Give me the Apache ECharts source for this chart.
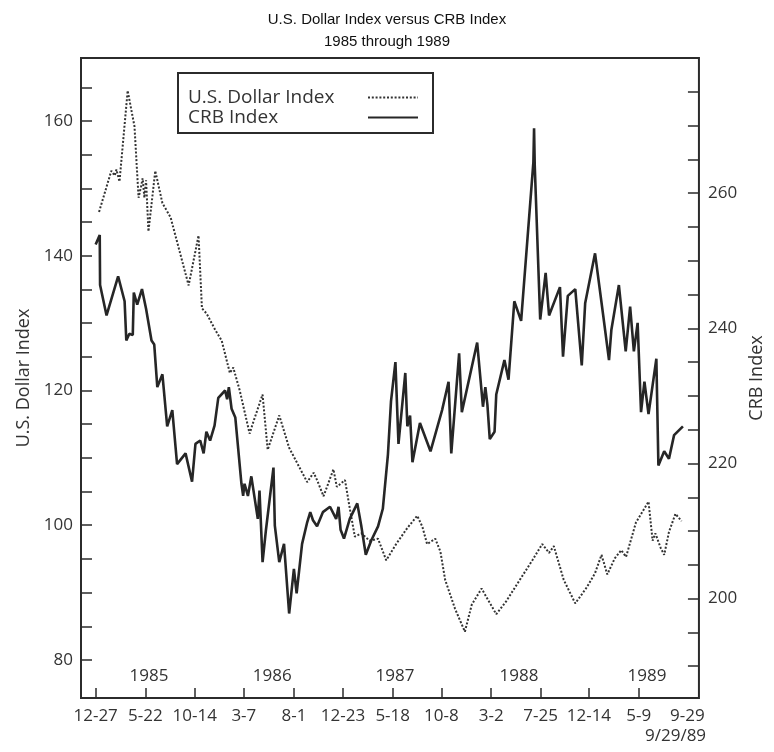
<!DOCTYPE html>
<html><head><meta charset="utf-8">
<script src="https://cdn.jsdelivr.net/npm/echarts@6/dist/echarts.min.js"></script>
<style>html,body{margin:0;padding:0;background:#fff}#c{width:774px;height:752px}</style>
</head><body><div id="c"></div>
<script>
// Days counted from 12-27-1984
const usdDay = [10,46,56,61,70,94,114,126,133,138,
  143,148,155,175,196,220,273,302,312,326,
  351,370,394,404,423,452,462,490,505,539,
  568,621,640,650,669,698,708,732,746,761,
  780,804,829,853,882,915,944,959,973,997,
  1012,1026,1055,1084,1104,1133,1176,1205,1249,1282,
  1311,1331,1345,1374,1408,1442,1466,1485,1502,1524,
  1543,1557,1586,1623,1635,1643,1659,1669,1683,1702,
  1720];
const usdValue = [146.5,152.6,151.9,152.8,151.0,164.5,159.2,148.6,150.2,151.5,
  148.6,151.2,143.6,152.6,147.8,145.7,135.6,143.0,132.2,131.4,
  129.0,127.4,122.6,123.4,120.0,113.6,115.2,119.4,111.2,116.3,
  111.5,106.4,107.8,106.7,104.3,108.3,105.7,106.7,102.5,98.3,
  98.8,97.7,98.0,94.8,97.2,99.6,101.4,99.8,97.2,98.0,
  96.1,91.9,87.6,84.2,88.2,90.6,86.8,88.7,92.2,94.8,
  97.2,95.9,96.9,91.9,88.4,90.8,92.9,95.6,92.7,95.1,
  96.3,95.3,100.4,103.5,97.7,98.8,96.6,95.6,99.0,101.7,
  100.6];
const crbDay = [0,12,13,32,66,85,90,99,109,112,
  122,136,148,164,172,181,196,210,225,239,
  264,283,293,307,317,325,336,349,360,380,
  386,391,399,410,428,433,437,447,457,476,
  481,490,500,522,526,539,553,568,582,590,
  606,621,630,638,650,667,688,706,713,719,
  729,746,768,780,793,809,829,843,858,867,
  880,889,909,915,923,930,952,983,1017,1036,
  1044,1067,1075,1120,1137,1144,1150,1157,1171,1176,
  1200,1212,1229,1249,1285,1287,1289,1305,1321,1331,
  1363,1372,1386,1408,1427,1437,1466,1490,1507,1514,
  1536,1556,1569,1580,1591,1601,1611,1623,1646,1650,
  1652,1669,1683,1698,1724];
const crbValue = [252.4,253.8,246.4,241.9,247.7,244.0,238.2,239.2,239.0,245.3,
  243.5,245.8,242.9,238.2,237.6,231.3,233.2,225.5,227.9,219.9,
  221.5,217.3,222.9,223.4,221.5,224.7,223.4,225.6,229.7,230.8,
  229.5,231.3,228.1,226.8,217.0,215.2,217.0,215.2,218.1,211.8,
  216.0,205.4,210.2,219.4,210.8,205.4,208.1,197.8,204.4,200.8,
  208.1,211.3,212.8,211.6,210.7,212.8,213.6,211.8,213.6,210.2,
  208.9,211.8,214.1,210.7,206.5,208.6,210.7,213.3,221.3,229.2,
  235.0,222.9,233.4,225.5,227.1,220.2,226.0,221.8,227.9,232.1,
  221.5,236.3,227.6,237.9,228.4,231.3,228.7,223.6,224.7,230.2,
  235.3,232.4,244.0,241.1,264.6,269.6,264.1,241.3,248.2,241.9,
  246.1,235.8,244.8,245.8,234.5,243.7,251.1,241.9,235.3,239.8,
  246.4,236.6,243.2,236.6,240.8,227.6,232.1,227.3,235.5,225.0,
  219.7,221.8,220.7,224.2,225.5];

const xTickDays = [0,146,291,435,582,726,872,1015,1161,1306,1448,1594];
const xLabelDays = [0,146,291,435,582,726,872,1015,1161,1306,1448,1594,1737];
const xLabels = ['12-27','5-22','10-14','3-7','8-1','12-23','5-18','10-8','3-2','7-25','12-14','5-9','9-29'];
const yearDays = [154,511,867,1226,1597];
const years = ['1985','1986','1987','1988','1989'];
const usdTicks = [80,85,90,95,100,105,110,115,120,125,130,135,140,145,150,155,160,165];
const usdLabels = [80,100,120,140,160];
const crbTicks = [190,195,200,205,210,215,220,225,230,235,240,245,250,255,260,265,270,275];
const crbLabels = [200,220,240,260];

const FONT = 'Open Sans';
const TXT = '#333';
const INK = '#2b2b2b';
const labelOf = (days, labels) => v => {
  const i = days.findIndex(d => Math.abs(d - v) < 0.5);
  return i >= 0 ? labels[i] : '';
};
const lab = {fontFamily: FONT, fontSize: 17, color: TXT};
const nameStyle = {fontFamily: FONT, fontSize: 18, color: TXT};

const chart = echarts.init(document.getElementById('c'));
chart.setOption({
  animation: false,
  backgroundColor: '#fff',
  title: {
    text: 'U.S. Dollar Index versus CRB Index\n1985 through 1989',
    left: 'center', top: 4,
    textStyle: {fontFamily: 'Liberation Sans', fontSize: 15, fontWeight: 'normal', color: '#111', lineHeight: 22}
  },
  legend: {
    left: 178, top: 73, orient: 'vertical', align: 'right',
    padding: [15, 14, 6, 10], itemGap: 1, itemWidth: 50, itemHeight: 14,
    borderColor: INK, borderWidth: 2, backgroundColor: '#fff',
    itemStyle: {color: 'rgba(0,0,0,0)', borderWidth: 0, opacity: 0},
    formatter: name => '{t|' + name + '}',
    textStyle: {rich: {t: {fontFamily: FONT, fontSize: 19, color: TXT, width: 175, align: 'left', lineHeight: 21}}},
    data: ['U.S. Dollar Index', 'CRB Index']
  },
  grid: [
    {left: 81, right: 67, top: 58, bottom: 54, show: true, borderColor: INK, borderWidth: 2},
    {left: 81, right: 67, top: 58, bottom: 54}
  ],
  xAxis: [
    {type: 'value', gridIndex: 0, min: -43, max: 1771,
     axisLine: {show: false, onZero: false}, splitLine: {show: false},
     axisTick: {inside: true, length: 10, customValues: xTickDays, lineStyle: {color: INK, width: 1.5}},
     axisLabel: Object.assign({customValues: xLabelDays, formatter: labelOf(xLabelDays, xLabels), margin: 10}, lab)},
    {type: 'value', gridIndex: 1, min: -43, max: 1771,
     axisLine: {show: false, onZero: false}, splitLine: {show: false}, axisTick: {show: false},
     axisLabel: Object.assign({inside: true, customValues: yearDays, formatter: labelOf(yearDays, years), margin: 13}, lab)}
  ],
  yAxis: [
    {type: 'value', gridIndex: 0, position: 'left', min: 74.36, max: 169.35,
     name: 'U.S. Dollar Index', nameLocation: 'middle', nameGap: 47, nameRotate: 90,
     nameTextStyle: nameStyle,
     axisLine: {show: false, onZero: false}, splitLine: {show: false},
     axisTick: {inside: true, length: 11, customValues: usdTicks, lineStyle: {color: INK, width: 1.5}},
     axisLabel: Object.assign({customValues: usdLabels, margin: 8}, lab)},
    {type: 'value', gridIndex: 0, position: 'right', min: 185.3, max: 280.0,
     name: 'CRB Index', nameLocation: 'middle', nameGap: 49, nameRotate: 90,
     nameTextStyle: nameStyle,
     axisLine: {show: false, onZero: false}, splitLine: {show: false},
     axisTick: {inside: true, length: 11, customValues: crbTicks, lineStyle: {color: INK, width: 1.5}},
     axisLabel: Object.assign({customValues: crbLabels, margin: 9}, lab)},
    {type: 'value', gridIndex: 1, min: 0, max: 1, show: false}
  ],
  graphic: [{
    type: 'text', left: 645, top: 728,
    style: {text: '9/29/89', font: '17px "Open Sans"', fill: TXT}
  }],
  series: [
    {name: 'U.S. Dollar Index', type: 'line', xAxisIndex: 0, yAxisIndex: 0,
     symbol: 'none', showSymbol: false,
     lineStyle: {color: '#333', width: 2, type: [2, 1.8]},
     itemStyle: {color: '#333'},
     data: usdDay.map((d, i) => [d, usdValue[i]])},
    {name: 'CRB Index', type: 'line', xAxisIndex: 0, yAxisIndex: 1,
     symbol: 'none', showSymbol: false, z: 3,
     lineStyle: {color: '#262626', width: 2.6},
     itemStyle: {color: '#262626'},
     data: crbDay.map((d, i) => [d, crbValue[i]])}
  ]
});
</script></body></html>
